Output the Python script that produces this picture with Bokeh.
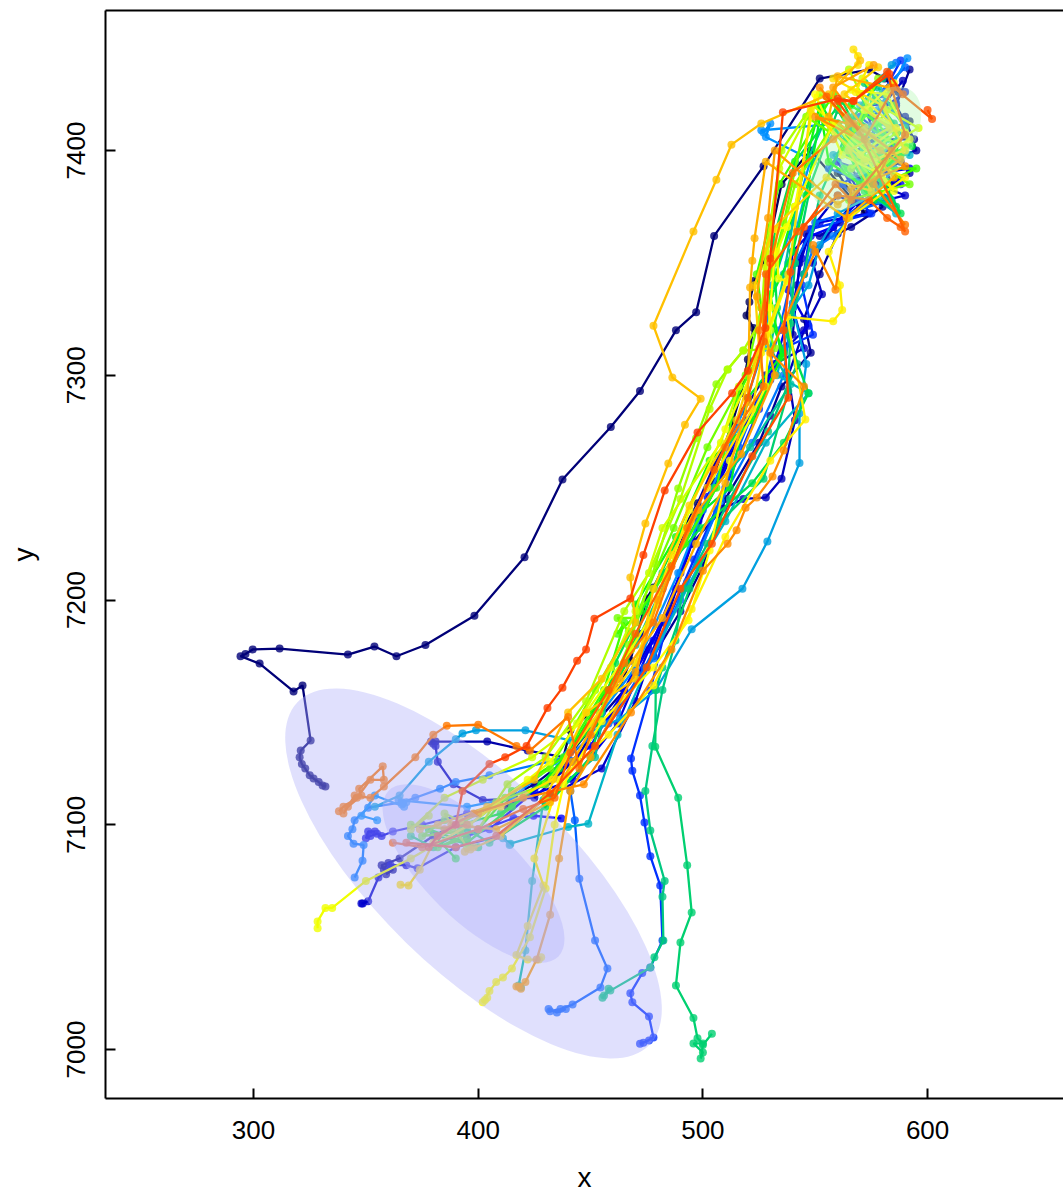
from bokeh.plotting import figure
from bokeh.models import LinearAxis, FixedTicker, Range1d
from bokeh.embed import file_html
from bokeh.resources import INLINE

x_ticks = [300, 400, 500, 600]
y_ticks = [7000, 7100, 7200, 7300, 7400]

t00 = [(587,7426),(581,7432),(574,7436),(552,7432),(527,7393),(505,7362),(497,7328),(488,7320),(472,7293),(459,7277),(437.5,7253.6),(420.6,7219),(398.3,7193),(376.5,7180),(363.6,7175),(353.8,7179.3),(342,7175.7),(311.6,7178.4),(299.6,7178),(296.4,7176),(294.2,7175),(302.7,7171.7),(317.8,7159.3),(321.8,7162),(325.4,7137.5),(321,7133),(320.5,7130),(321.5,7127),(323,7125),(325,7122),(326.7,7120.6),(329,7119),(330.7,7117.5),(332,7117)]
t01 = [(592,7413),(585,7398),(578,7395),(571,7405),(582,7385),(560,7390),(572,7372),(548,7400),(535,7385),(528,7352),(523,7342),(520.7,7332.6),(519.4,7326.6),(522.5,7321),(520,7307),(517,7292),(513,7278.5),(504,7253),(497.6,7243),(486,7222),(478,7205.6),(475,7200.7),(467.7,7173),(463,7161),(455.7,7155),(441,7142),(436.6,7125),(433.5,7120.6),(414,7109.4),(415,7110),(413,7108),(416,7112)]
t02 = [(592,7436),(586,7420),(594,7405),(575,7405),(588,7395),(570,7385),(580,7375),(566,7366),(560,7363),(552,7345),(545,7325),(548,7310),(535,7295),(530,7282),(525,7270),(510,7245),(500,7215),(490,7195),(478,7175),(465,7160),(452,7145),(438,7128),(425,7118),(400,7105),(380,7095),(365,7085),(357,7082),(358,7080),(360,7083),(362,7080),(359,7078)]
t03 = [(590,7415),(595,7400),(578,7395),(585,7385),(592,7390),(568,7378),(558,7366),(552,7362),(546,7363),(543,7350),(542,7340),(540,7318),(528,7300),(518,7284),(505,7260),(492,7230),(482,7205),(473,7185),(462,7165),(455,7150),(444,7129),(422,7133),(404,7137),(381,7137),(380,7136),(379,7137)]
t04 = [(589,7431),(580,7420),(586,7408),(572,7410),(583,7400),(566,7392),(575,7380),(561,7368),(555,7362),(549,7350),(553,7336),(545,7320),(538,7300),(541,7280),(535,7254),(528,7245.6),(518,7245),(509,7240.7),(495,7225),(485,7195),(470,7170),(460,7150),(442,7128),(425,7112),(402,7111),(389,7118),(382,7128),(381,7135)]
t05 = [(585,7410),(565,7398),(578,7385),(590,7380),(570,7375),(560,7380),(548,7365),(544,7352),(540,7330),(545,7312),(532,7305),(520,7280),(505,7250),(495,7225),(482,7190),(470,7155),(455,7125),(430,7112),(410,7095),(390,7090),(373,7080.6),(368,7082),(361,7082),(355.6,7076.5),(351,7066),(348.6,7065),(348,7065)]
t06 = [(590,7426),(575,7415),(582,7398),(592,7392),(566,7388),(574,7372),(552,7368),(540,7355),(538,7338),(547,7322),(535,7310),(524,7288),(512,7262),(498,7235),(488,7205),(476,7178),(462,7145),(442,7120),(415,7110),(395,7105),(375,7100),(362,7097),(357,7095),(355,7096),(352,7095),(350,7094),(351,7097),(354,7097)]
t07 = [(586,7421),(572,7420),(578,7402),(588,7385),(560,7395),(570,7378),(558,7366),(548,7362),(545,7345),(537,7322),(530,7298),(515,7272),(502,7246),(490,7212),(478,7182),(465,7160),(450,7135),(425,7115),(405,7098),(395,7095),(415.7,7103),(424.6,7104),(437,7102.8)]
t08 = [(588,7440),(580,7425),(570,7415),(585,7403),(576,7395),(562,7385),(575,7372),(548,7365),(544,7340),(549,7318),(536,7312),(525,7285),(510,7250),(496,7218),(484,7190),(476.6,7159.7),(468,7129.5),(468.6,7124),(472,7113),(474,7101),(476.6,7086),(481,7073),(482,7048.5),(476.6,7036.5),(473,7034),(467.7,7025),(468.6,7021),(476,7014.7),(478,7005.3),(473.5,7003),(472,7002.6),(476,7004)]
t09 = [(590,7437),(577,7424),(590,7412),(565,7405),(556,7392),(575,7385),(584,7378),(550,7368),(541,7350),(534,7320),(527,7295),(516,7268),(506,7240),(490,7200),(474,7170),(458,7145),(441,7115),(443,7102),(445,7076),(452,7048.5),(457.5,7036),(454.4,7027.6),(442,7020),(436.6,7018),(432,7017),(431.3,7018),(435,7016.5),(439,7018)]
t10 = [(586,7439),(574,7428),(583,7412),(566,7410),(585,7392),(572,7376),(558,7362),(549,7356),(540,7332),(536,7300),(522,7270),(508,7244),(493,7208),(478,7174),(462,7150),(440,7130),(405,7122),(390,7119),(383,7116),(372,7112),(366,7110),(351,7107.6),(345,7102),(344,7098),(342,7095),(344.5,7091.6),(349,7091),(348.5,7084),(345,7076.5)]
t11 = [(591,7441),(578,7418),(560,7412),(526,7409),(527,7408),(530,7412),(528,7406),(548,7396),(540,7368),(531,7340),(527,7312),(515,7276),(500,7240),(489,7212),(470,7170),(455,7150),(435,7128),(415,7112),(395,7108),(364.5,7111),(366,7109),(368,7110),(367,7108),(354,7113),(348,7104),(355,7102)]
t12 = [(584,7438),(570,7420),(584,7410),(558,7398),(575,7380),(560,7372),(552,7358),(547,7340),(540,7330),(546,7305),(543,7283),(543,7261),(528.7,7226),(517.6,7205),(495,7187),(479,7160),(463,7147),(441,7137.5),(421,7142),(399,7142),(393,7140.6),(390,7138),(378,7128),(365,7113),(354,7108)]
t13 = [(582,7412),(592,7398),(566,7400),(578,7378),(586,7372),(560,7410),(549,7395),(538,7350),(540,7330),(533,7300),(547,7292),(528,7270),(510,7235),(498,7215),(475,7170),(462,7140),(449,7100.5),(440,7099),(414.3,7091.6),(411,7094),(414,7091)]
t14 = [(578,7428),(590,7410),(572,7390),(581,7378),(555,7415),(544,7390),(536,7345),(530,7312),(539,7296),(521,7268),(505,7250),(484,7210),(470,7180),(458,7160),(452,7130),(432,7113),(429,7111),(424,7075),(421,7044),(418,7028.5),(419,7027.6)]
t15 = [(580,7432),(567,7415),(582,7405),(575,7385),(586,7375),(565,7410),(552,7380),(545,7345),(538,7320),(542,7305),(529,7275),(512,7245),(502,7225),(491,7205),(487.8,7182),(482,7160),(477.5,7135),(474.4,7115),(476.6,7097.5),(483,7075),(482,7068),(482.4,7048.5),(478.4,7041),(476.6,7036.5),(458.8,7026.2),(456,7024),(455.3,7023),(458,7027)]
t16 = [(572,7430),(585,7412),(568,7395),(580,7385),(560,7418),(548,7385),(541,7350),(539,7323),(538,7293),(527,7254),(508,7235),(494,7205),(482,7170),(479,7160),(478.8,7134.7),(489,7112),(493,7082),(495,7061),(490,7047.6),(488,7028.5),(495.8,7014),(497.6,7005),(500,7002.7),(495.8,7002.7),(500,6998.7),(499,6996),(500,7002),(504,7007)]
t17 = [(576,7422),(564,7405),(584,7395),(572,7382),(588,7372),(562,7422),(541,7395),(531,7359),(533,7330),(547,7292),(536,7270),(522,7252),(499,7232),(482,7212),(470,7190),(461,7172),(450,7130),(430,7108),(405,7092),(395,7098),(380,7090),(370,7095)]
t18 = [(570,7425),(580,7405),(593,7402),(563,7392),(576,7378),(553,7420),(546,7380),(540,7355),(528,7330),(536,7310),(520,7290),(512,7250),(491,7232),(478,7205),(466,7172),(452,7145),(428,7118),(410,7105),(392,7100),(382,7095),(400,7090)]
t19 = [(566,7420),(578,7412),(588,7398),(570,7385),(556,7395),(552,7420),(541,7375),(530,7336),(535,7308),(522,7280),(503,7262),(488,7228),(470,7198),(468,7178),(456,7158),(436,7125),(415,7108),(395,7092),(378,7098),(390,7085)]
t20 = [(574,7418),(562,7400),(582,7386),(595,7392),(572,7392),(558,7425),(534,7385),(524,7345),(528,7315),(515,7290),(506,7250),(492,7225),(472,7195),(462,7185),(465,7190),(456,7160),(438,7130),(415,7115),(400,7098),(382,7090),(395,7094)]
t21 = [(585,7420),(570,7405),(560,7412),(579,7395),(565,7378),(592,7385),(546,7415),(536,7368),(526,7330),(519,7300),(502,7268),(487,7232),(470,7192),(462,7192),(467,7186),(452,7160),(432,7125),(412,7112),(392,7097),(375,7095),(385,7102)]
t22 = [(578,7432),(568,7410),(590,7402),(575,7388),(557,7410),(541,7385),(532,7350),(526,7330),(532,7312),(518,7311),(511,7302.6),(506,7296),(497,7272),(489,7249.6),(479,7216),(467,7180),(454,7150),(430,7118),(408,7110),(388,7098),(370,7100)]
t23 = [(565,7436),(574,7418),(586,7408),(566,7392),(580,7402),(552,7425),(535,7400),(528,7355),(526,7325),(518,7311),(511,7302.6),(503,7285),(490,7245),(476,7212),(465,7195),(448,7155),(430,7130),(413,7118),(400,7098),(385,7105),(395,7090)]
t24 = [(571,7432),(582,7418),(596,7410),(575,7398),(549,7420),(534,7392),(528,7348),(530,7320),(516,7295),(508,7270),(482,7232),(470,7195),(459,7170),(444,7145),(424,7130),(402,7120),(385,7112),(370,7098),(378,7104)]
t25 = [(566,7427),(582,7425),(592,7405),(576,7395),(585,7382),(558,7412),(541,7375),(533,7355),(533.6,7343),(537.5,7342),(526,7310),(510,7276),(494,7240),(480,7198),(468,7178),(448,7150),(432,7128),(422,7120),(396,7100),(370,7085),(350,7075),(335,7063),(332,7063),(328.5,7057),(328.5,7054)]
t26 = [(585,7430),(572,7418),(590,7408),(578,7390),(562,7398),(550,7425),(541,7375),(537.5,7366),(533,7365),(530,7330),(528,7295),(512,7262),(503,7222),(493.6,7191),(478,7170),(455,7146),(438,7118),(434,7100),(430,7071.6),(423,7050),(415,7036),(411,7032),(408,7030),(405,7026),(403,7022),(402,7021),(404,7023)]
t27 = [(574,7438),(568,7426),(586,7410),(570,7398),(590,7388),(565,7370),(556,7355),(561,7340),(562,7329),(558,7324),(537.5,7326),(545.6,7280.3),(530,7262),(510,7228),(495,7196),(478,7162),(458,7140),(436,7120),(425,7085),(429,7073),(422,7055),(417,7042),(422,7040),(427,7040),(428,7041)]
t28 = [(567,7445),(569,7442),(569,7438),(558,7432),(580,7420),(590,7400),(572,7395),(548,7418),(538,7345),(528,7318),(522,7285),(502,7250),(486,7220),(470,7172),(450,7145),(433,7120),(410,7108),(392,7102),(380,7092),(374,7080),(369,7073),(365.4,7073.3)]
t29 = [(578,7437),(563,7425),(583,7410),(565,7400),(575,7382),(555,7388),(531,7365),(523,7340),(525,7312),(515,7280),(494,7242),(478,7205),(470,7165),(448,7150),(430,7112),(410,7095),(396.5,7089),(394,7088),(398,7090)]
t30 = [(570,7440),(556,7425),(526,7412),(512.7,7402.6),(506,7387),(495.8,7364),(478,7322),(486.4,7299),(499,7289.6),(492,7278),(484.6,7260.7),(474.4,7234),(467.7,7210),(470,7190),(455,7165),(440,7150),(425,7120),(404,7108),(382,7100),(374,7098)]
t31 = [(583,7428),(560,7433),(556,7415),(573,7403),(585,7388),(564,7370),(528,7395),(523,7361),(522,7351),(521,7339),(520,7288),(510,7252),(497,7225),(482,7192),(463,7165),(442,7128),(432,7110),(408,7098),(388,7100),(400,7105)]
t32 = [(576,7438),(558,7428),(572,7410),(588,7396),(560,7376),(532,7400),(529,7370),(524,7335),(532,7300),(517,7265),(498,7240),(480,7200),(470,7168),(450,7130),(441,7115),(436,7085),(432,7060),(426,7040),(421,7030),(418,7028),(419,7027),(417,7028)]
t33 = [(552,7428),(565,7412),(550,7415),(579,7400),(590,7393),(566,7383),(559,7338),(549,7358),(550,7355),(530,7310),(545,7295),(536,7266.5),(531,7255),(524,7245.6),(519,7241),(515,7231),(511,7225),(500,7213),(486,7178),(468,7150),(447,7118),(420,7112),(398,7105),(385,7098),(395,7100)]
t34 = [(590,7367),(576,7385),(584,7400),(567,7412),(558,7405),(540,7390),(530,7350),(525,7320),(527,7295),(510,7268),(493,7232),(478,7190),(465,7172),(450,7140),(445,7125),(440,7148),(423,7133),(417,7135),(400,7144.5),(386,7144),(380,7140),(372,7130),(358,7117),(352,7112),(345,7113),(340,7105),(342,7108),(348,7113),(347,7116),(357.5,7126),(358,7120),(352,7120),(346,7112),(340,7108),(338,7106)]
t35 = [(555,7424),(570,7408),(590,7364),(588,7366),(582,7370),(574,7378),(560,7380),(542,7364),(528,7345),(527,7315),(520,7290),(505,7258),(486,7215),(470,7185),(458,7160),(441,7132),(434,7112),(420,7107),(400,7098),(375,7090),(362,7092)]
t36 = [(600,7418),(602,7414),(585,7428),(572,7405),(560,7422),(567,7422),(582,7435),(590,7407),(566,7378),(559,7385),(545,7366),(539,7346),(536,7320),(538,7290),(522,7264),(504,7225),(490,7205),(475,7170),(452,7135),(432,7114),(408,7095),(390,7090),(368,7092)]
t37 = [(589,7425),(583,7434),(567,7422),(560,7423),(535.6,7417),(530,7352),(527.8,7321),(520,7302),(513,7292),(497.6,7274.5),(483,7248.7),(473.5,7220),(467.7,7200.7),(451.7,7191.7),(448,7178),(444,7173),(437.5,7161),(430.8,7152),(421.5,7135),(412,7130),(405,7127),(393,7115),(390,7100),(382,7095),(378,7090)]

tracks = [t00,t01,t02,t03,t04,t05,t06,t07,t08,t09,t10,t11,t12,t13,t14,t15,t16,t17,t18,t19,
          t20,t21,t22,t23,t24,t25,t26,t27,t28,t29,t30,t31,t32,t33,t34,t35,t36,t37]
track_colors = ["#000078","#00005a","#000096","#0000aa","#0000bc","#0000cc","#0000e0","#0000f5","#0030ff","#0060ff",
                "#0078ff","#0090ff","#00a0e0","#00b4c8","#00c0a0","#00c880","#00d070","#00e050","#00ee30","#10f810",
                "#40ff00","#70ff00","#90ff00","#b0ff00","#d0ff00","#f0ff00","#ffff00","#fff000","#ffe000","#ffd000",
                "#ffc000","#ffb000","#ffa000","#ff8c00","#ff7800","#ff6000","#ff5000","#ff4000"]

# centre x, centre y, width, height, angle (degrees)
ell_low_outer = (397.9, 7078.3, 218.7, 86.0, -44.3)
ell_low_inner = (397.9, 7078.3, 105.6, 41.5, -44.3)
ell_top_outer = (572.7, 7400.9, 65.4, 34.1, 51.0)
ell_top_inner = (572.7, 7400.9, 31.6, 16.5, 51.0)

p = figure(width=1063, height=1195, output_backend="svg", toolbar_location=None,
           x_range=Range1d(234.1, 660.5), y_range=Range1d(6978.2, 7462.3),
           x_axis_location=None, y_axis_location=None,
           min_border_left=105, min_border_right=0, min_border_top=10, min_border_bottom=97,
           background_fill_color="white", border_fill_color="white", outline_line_color=None)
p.grid.visible = False

for tr, col in zip(tracks, track_colors):
    xs = [a for a, b in tr]
    ys = [b for a, b in tr]
    p.line(xs, ys, line_color=col, line_width=2.3)
    p.scatter(xs, ys, size=8, fill_color=col, line_color=None, fill_alpha=0.8)

for e, col in [(ell_low_outer, "#b1b1fa"), (ell_low_inner, "#b1b1fa"),
               (ell_top_outer, "#b4f8b4"), (ell_top_inner, "#b4f8b4")]:
    p.ellipse(x=[e[0]], y=[e[1]], width=[e[2]], height=[e[3]], angle=[e[4]], angle_units="deg",
              fill_color=col, fill_alpha=0.4, line_color=None)

def style(ax, label):
    ax.axis_label = label
    ax.axis_label_text_font = "Liberation Sans"
    ax.axis_label_text_font_size = "28px"
    ax.axis_label_text_font_style = "normal"
    ax.axis_label_text_color = "black"
    ax.major_label_text_font = "Liberation Sans"
    ax.major_label_text_font_size = "26px"
    ax.major_label_text_color = "black"
    ax.axis_line_color = "black"
    ax.axis_line_width = 2
    ax.major_tick_line_color = "black"
    ax.major_tick_line_width = 2
    ax.major_tick_in = 10
    ax.major_tick_out = 0
    ax.minor_tick_line_color = None

bottom = LinearAxis(ticker=FixedTicker(ticks=x_ticks))
style(bottom, "x")
bottom.major_label_standoff = 22
bottom.axis_label_standoff = 20
p.add_layout(bottom, "below")

left = LinearAxis(ticker=FixedTicker(ticks=y_ticks))
style(left, "y")
left.major_label_orientation = "vertical"
left.major_label_standoff = 20
left.axis_label_standoff = 26
p.add_layout(left, "left")

top = LinearAxis(ticker=FixedTicker(ticks=[]))
top.axis_line_color = "black"
top.axis_line_width = 2
top.major_tick_line_color = None
top.minor_tick_line_color = None
top.major_label_text_font_size = "0px"
p.add_layout(top, "above")

open("out.html", "w").write(file_html(p, INLINE))
